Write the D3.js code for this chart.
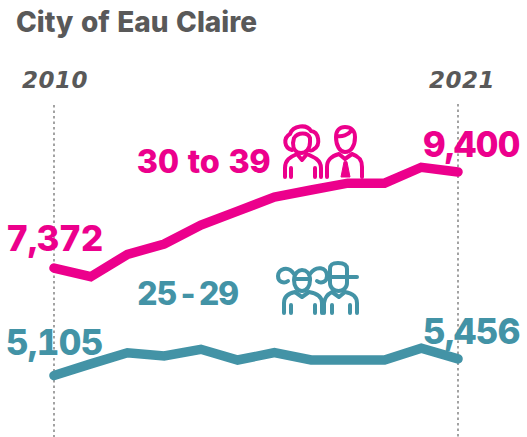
<!DOCTYPE html>
<html><head><meta charset="utf-8">
<script src="https://cdn.jsdelivr.net/npm/d3@7"></script>
<style>html,body{margin:0;padding:0;background:#fff}svg{display:block}</style>
</head><body><div id="c"></div>
<script>
const years = [2010,2011,2012,2013,2014,2015,2016,2017,2018,2019,2020,2021];
const ages30to39 = [7372,7190,7662,7880,8280,8575,8870,9020,9165,9165,9500,9400];
const ages25to29 = [5105,5350,5586,5516,5658,5432,5586,5432,5432,5432,5679,5456];
const titleText = "City of Eau Claire";
const seriesNames = ["30 to 39","25-29"];
const endLabels = [["7,372","9,400"],["5,105","5,456"]];
const pink="#ec008c", teal="#4393a6", gray="#595959";

const W=527,H=437;
const svg=d3.select("#c").append("svg").attr("width",W).attr("height",H);
const x=d3.scaleLinear().domain([2010,2021]).range([54,458]);
const y=d3.scaleLinear().domain([5105,9400]).range([375.5,172]);
const font="'Inter','Roboto',sans-serif";

[[2010,105],[2021,104]].forEach(([yr,top])=>{
  svg.append("line").attr("x1",x(yr)).attr("x2",x(yr)).attr("y1",top).attr("y2",437)
    .attr("stroke","#8c8c8c").attr("stroke-width",1.6).attr("stroke-dasharray","2.5 3");
});

const line=d3.line().x((d,i)=>x(years[i])).y(d=>y(d));
[[ages30to39,pink],[ages25to29,teal]].forEach(([s,c])=>{
  svg.append("path").attr("d",line(s)).attr("fill","none").attr("stroke",c)
    .attr("stroke-width",9.5).attr("stroke-linecap","round").attr("stroke-linejoin","miter");
});

function text(t,px,py,size,c,opt={}){
  return svg.append("text").attr("x",px).attr("y",py).text(t)
    .attr("font-family",opt.family||font).attr("font-size",size).attr("font-weight",opt.weight||700)
    .attr("font-style",opt.style||"normal").attr("fill",c)
    .attr("letter-spacing",opt.ls||0).attr("text-anchor",opt.anchor||"start")
    .style("font-variant-numeric","tabular-nums");
}
text(titleText,16,32,28,gray,{weight:800,ls:0});
const yf={family:"'DejaVu Sans',sans-serif",style:"italic",ls:0.5,weight:700};
text(years[0],22,88,23,gray,yf);
text(years[11],429,88,23,gray,yf);

const nf={weight:800,ls:-0.6};
text(endLabels[0][0],6,251,35,pink,nf);
text(endLabels[0][1],423,157,35,pink,nf);
text(endLabels[1][0],6,355,35,teal,nf);
text(endLabels[1][1],423,344,35,teal,nf);
text(seriesNames[0],137,173,32.5,pink,{weight:800});
text(seriesNames[1].replace("-"," - ").replace(/ /g,"\u200a"),137,305,32,teal,{weight:800,ls:-1});

function icon(tx,ty,c,draw){
  const g=svg.append("g").attr("transform",`translate(${tx},${ty})`).attr("fill","none")
    .attr("stroke",c).attr("stroke-width",4).attr("stroke-linecap","round").attr("stroke-linejoin","round");
  draw(g);
}
const P=(g,d)=>g.append("path").attr("d",d);
icon(270,110,pink,g=>{
  P(g,"M22 40 C14 38 13 28 20 24 C23 15 37 14 41 21 C49 22 51 35 44 39 C42 41 41 41 39 40");
  P(g,"M24 28 C28 22 38 22 40 28 L40 32 C40 39 36 43 31 43 C26 43 23 39 23 33 Z");
  P(g,"M15 67 L15 58 C15 50 20 47 27 44 L32 50 L37 44 C44 47 51 50 51 58 L51 67");
  P(g,"M21 58 L21 67 M45 58 L45 67");
  P(g,"M66 27 C66 20 70 17 75 17 C81 17 85 21 85 27 C85 36 81 42 75 42 C70 42 66 36 66 27 Z");
  P(g,"M67 26 C72 27 78 25 81 21");
  P(g,"M57 67 L57 57 C57 49 62 46 69 44 L75 49 L82 44 C88 46 92 49 92 57 L92 67");
  g.append("path").attr("d","M74 52 L71 67 L80 67 L77 52 Z").attr("fill",pink).attr("stroke-width",1);
});
icon(270,255,teal,g=>{
  P(g,"M24 25 C24 18 29 15 32 15 C36 15 40 18 40 25 C40 31 37 36 32 36 C27 36 24 31 24 25 Z");
  P(g,"M25 24 C30 24 36 24 40 24");
  P(g,"M24 19 C18 10 8 14 8 21 C8 27 14 29 18 26");
  P(g,"M40 19 C46 10 57 12 57 21 C57 27 51 29 47 26");
  P(g,"M14 58 L14 48 C14 41 20 38 25 37 L32 42 L39 37 C45 38 52 41 52 48 L52 58");
  P(g,"M21 50 L21 58 M45 50 L45 58");
  P(g,"M60 22 L60 14 C60 9 63 8 68 8 C74 8 77 10 77 14 L77 22 L87 22");
  P(g,"M60 22 L77 22");
  P(g,"M60 23 L60 28 C60 33 64 36 68.5 36 C73 36 77 33 77 28 L77 23");
  P(g,"M54 58 L54 48 C55 41 60 38 62 37 L69 42 L75 37 C81 38 87 41 87 48 L87 58");
  P(g,"M62 50 L62 58 M80 50 L80 58");
});
</script></body></html>
